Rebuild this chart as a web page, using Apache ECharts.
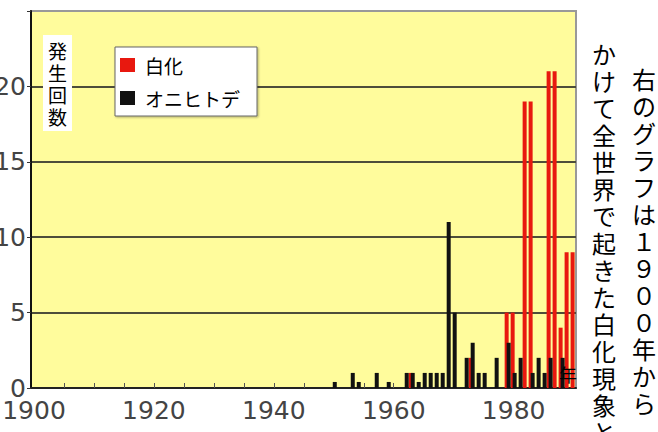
<!DOCTYPE html>
<html>
<head>
    <meta charset="utf-8">
    <title>白化とオニヒトデ</title>
    <style>
        html, body { margin: 0; padding: 0; background: #fff; }
        #container { width: 658px; height: 432px; }
    </style>
</head>
<body>
<div id="container"></div>

<script type="text/javascript" src="https://cdn.jsdelivr.net/npm/echarts@6/dist/echarts.min.js"></script>
<script type="text/javascript">
    // 白化 (red)
    var bleachYears  = [1963, 1973, 1979, 1980, 1982, 1983, 1986, 1987, 1988, 1989, 1990];
    var bleachCounts = [1,    2,    5,    5,    19,   19,   21,   21,   4,    9,    9];

    // オニヒトデ (black)
    var starYears  = [1950, 1953, 1954, 1957, 1959, 1962, 1963, 1964, 1965, 1966, 1967, 1968, 1969, 1970,
                      1972, 1973, 1974, 1975, 1977, 1979, 1980, 1981, 1983, 1984, 1985, 1986, 1988];
    var starCounts = [0.4,  1,    0.4,  1,    0.4,  1,    1,    0.4,  1,    1,    1,    1,    11,   5,
                      2,    3,    1,    1,    2,    3,    1,    2,    1,    2,    1,    2,    2];

    var xLabels = [1900, 1920, 1940, 1960, 1980];
    var xTicks = [1905, 1910, 1915, 1920, 1925, 1930, 1935, 1940, 1945, 1950, 1955, 1960, 1965, 1970, 1975, 1980, 1985];

    // side text, one character per cell (vertical writing)
    var sideCol1 = ['右', 'の', 'グ', 'ラ', 'フ', 'は', '１', '９', '０', '０', '年', 'か', 'ら'];
    var sideCol2 = ['か', 'け', 'て', '全', '世', '界', 'で', '起', 'き', 'た', '白', '化', '現', '象', 'と'];

    function pairs(xs, ys) {
        var out = [];
        for (var i = 0; i < xs.length; i++) {
            out.push([xs[i], ys[i]]);
        }
        return out;
    }

    var numFont = '"DejaVu Sans", sans-serif';
    var jpFont = '"Noto Sans CJK JP", sans-serif';

    function column(chars, left, top, pitch) {
        var els = [];
        for (var i = 0; i < chars.length; i++) {
            els.push({
                type: 'text',
                left: left,
                top: top + i * pitch,
                style: {
                    text: chars[i],
                    font: '24px ' + jpFont,
                    fill: '#000'
                }
            });
        }
        return els;
    }

    var dom = document.getElementById("container");
    var myChart = echarts.init(dom, null, {renderer: 'svg'});

    var graphics = [
        {
            type: 'text',
            left: 43,
            top: 35,
            z: 10,
            style: {
                text: '発\n生\n回\n数',
                font: '19px ' + jpFont,
                lineHeight: 22,
                fill: '#000',
                backgroundColor: '#fff',
                padding: [4, 5]
            }
        },
        {
            type: 'text',
            left: 559,
            top: 365,
            z: 10,
            style: {
                text: '年',
                font: '18px ' + jpFont,
                fill: '#000'
            }
        }
    ].concat(column(sideCol1, 632, 66, 27), column(sideCol2, 592, 41, 27));

    var option = {
        animation: false,
        grid: {
            left: 31,
            right: 82,
            top: 11,
            bottom: 44,
            outerBoundsMode: 'none',
            show: true,
            backgroundColor: '#fffc9c',
            borderColor: '#999',
            borderWidth: 2
        },
        legend: {
            orient: 'vertical',
            left: 115,
            top: 47,
            data: ['白化', 'オニヒトデ'],
            icon: 'rect',
            itemWidth: 15,
            itemHeight: 14,
            itemGap: 13,
            padding: [8, 17, 8, 5],
            backgroundColor: '#fff',
            borderColor: '#666',
            borderWidth: 1,
            shadowColor: 'rgba(0,0,0,0.3)',
            shadowBlur: 2,
            shadowOffsetX: 1,
            shadowOffsetY: 1,
            textStyle: {
                fontSize: 19,
                lineHeight: 20,
                fontFamily: jpFont,
                color: '#000',
                padding: [0, 0, 0, 5]
            }
        },
        xAxis: {
            type: 'value',
            min: 1899.5,
            max: 1990.4,
            axisLine: {lineStyle: {color: '#222', width: 2}},
            axisTick: {
                show: true,
                inside: true,
                length: 5,
                customValues: xTicks,
                lineStyle: {color: '#555', width: 1}
            },
            axisLabel: {
                customValues: xLabels,
                fontSize: 25,
                fontFamily: numFont,
                color: '#444',
                margin: 10,
                formatter: function (v) {
                    return String(v);
                }
            },
            splitLine: {show: false}
        },
        yAxis: {
            type: 'value',
            min: 0,
            max: 25,
            interval: 5,
            axisLine: {show: true, lineStyle: {color: '#111', width: 2}},
            axisTick: {show: true, length: 4, lineStyle: {color: '#333'}},
            axisLabel: {
                fontSize: 25,
                fontFamily: numFont,
                color: '#444',
                margin: 5,
                formatter: function (v) {
                    return v === 25 ? '' : String(v);
                }
            },
            splitLine: {
                show: true,
                lineStyle: {
                    color: ['#333', '#4d4d3a', '#4d4d3a', '#4d4d3a', '#4d4d3a', '#999'],
                    width: 2
                }
            }
        },
        series: [
            {
                name: '白化',
                type: 'bar',
                barWidth: 4,
                barGap: '-50%',
                itemStyle: {color: '#e8180f'},
                data: pairs(bleachYears, bleachCounts)
            },
            {
                name: 'オニヒトデ',
                type: 'bar',
                barWidth: 4,
                barGap: '-50%',
                itemStyle: {color: '#111'},
                data: pairs(starYears, starCounts)
            }
        ],
        graphic: graphics
    };

    myChart.setOption(option);
</script>
</body>
</html>
